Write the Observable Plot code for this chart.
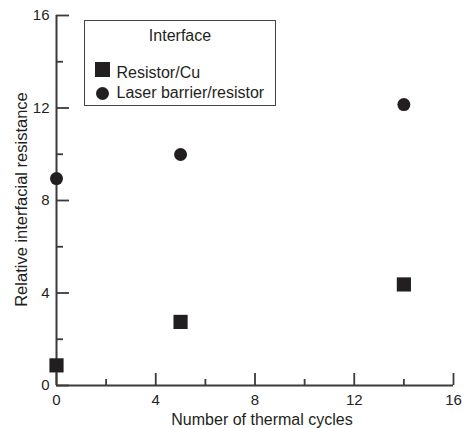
<!DOCTYPE html>
<html><head><meta charset="utf-8">
<script src="https://cdn.jsdelivr.net/npm/d3@7"></script>
<script src="https://cdn.jsdelivr.net/npm/@observablehq/plot@0.6"></script>
<style>
body{margin:0;background:#fff;}
#wrap{position:relative;width:466px;height:428px;font-family:"Liberation Sans",Arial,sans-serif;color:#231f20;}
#legend{position:absolute;left:84px;top:20px;width:192px;height:86px;box-sizing:border-box;border:1.5px solid #444;background:#fff;font-size:16px;line-height:16px;}
#legend .t{position:absolute;left:0;right:0;top:7px;text-align:center;}
#legend .lab{position:absolute;left:31.5px;white-space:nowrap;}
#legend .sq{position:absolute;left:10px;top:40.5px;width:15px;height:15px;background:#231f20;}
#legend .ci{position:absolute;left:11px;top:65.5px;width:13px;height:13px;border-radius:50%;background:#231f20;}
</style></head>
<body><div id="wrap"></div>
<script>
const cycles = [0, 5, 14];
const resistorCu = [0.87, 2.75, 4.37];
const laserBarrier = [8.95, 9.99, 12.15];
const seriesNames = ["Resistor/Cu", "Laser barrier/resistor"];
const legendTitle = "Interface";
const xMajor = [0, 4, 8, 12, 16];
const xMinor = [2, 6, 10, 14];
const yMajor = [0, 4, 8, 12, 16];
const yMinor = [2, 6, 10, 14];
const xLabel = "Number of thermal cycles";
const yLabel = "Relative interfacial resistance";

const ink = "#231f20", axisInk = "#3a3a3a";
const chart = Plot.plot({
  width: 466, height: 428,
  marginLeft: 56, marginRight: 13, marginTop: 15, marginBottom: 43,
  x: {domain: [0, 16]},
  y: {domain: [0, 16]},
  style: {fontFamily: "'Liberation Sans', Arial, sans-serif", fontSize: "15px", color: ink, background: "white", overflow: "visible"},
  marks: [
    Plot.axisX(xMajor, {tickSize: -12, fill: "none", label: null, stroke: axisInk, strokeWidth: 1.8}),
    Plot.axisX(xMinor, {tickSize: -6, fill: "none", label: null, stroke: axisInk, strokeWidth: 1.8}),
    Plot.axisY(yMajor, {tickSize: -13, fill: "none", label: null, stroke: axisInk, strokeWidth: 1.8}),
    Plot.axisY(yMinor, {tickSize: -7, fill: "none", label: null, stroke: axisInk, strokeWidth: 1.8}),
    Plot.text(xMajor, {x: d => d, text: d => String(d), frameAnchor: "bottom", lineAnchor: "top", dy: 9, fontSize: 15, fill: ink}),
    Plot.text(yMajor, {y: d => d, text: d => String(d), frameAnchor: "left", textAnchor: "end", lineAnchor: "middle", dx: -7, fontSize: 15, fill: ink}),
    Plot.ruleX([0], {stroke: axisInk, strokeWidth: 2}),
    Plot.ruleY([0], {stroke: axisInk, strokeWidth: 2}),
    Plot.text([xLabel], {frameAnchor: "bottom", dy: 34, dx: 7, fontSize: 16, fill: ink, lineAnchor: "middle"}),
    Plot.text([yLabel], {frameAnchor: "left", rotate: -90, dx: -35, dy: -1, fontSize: 16.5, fill: ink, textAnchor: "middle", lineAnchor: "middle"}),
    Plot.dot(cycles, {x: cycles, y: resistorCu, symbol: "square", r: 8, fill: ink, stroke: "none"}),
    Plot.dot(cycles, {x: cycles, y: laserBarrier, symbol: "circle", r: 6.5, fill: ink, stroke: "none"})
  ]
});
const wrap = document.getElementById("wrap");
wrap.appendChild(chart);
const leg = document.createElement("div");
leg.id = "legend";
leg.innerHTML = `<div class="t">${legendTitle}</div>
<div class="sq"></div><div class="lab" style="top:44px">${seriesNames[0]}</div>
<div class="ci"></div><div class="lab" style="top:64px">${seriesNames[1]}</div>`;
wrap.appendChild(leg);
</script></body></html>
